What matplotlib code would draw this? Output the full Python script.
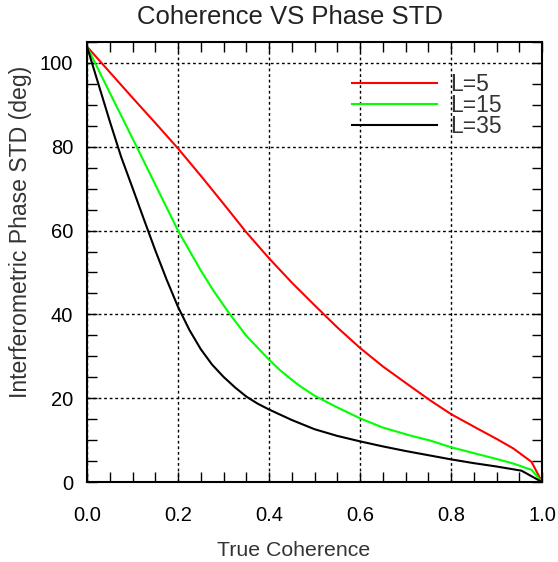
import matplotlib
matplotlib.use("Agg")
import matplotlib.pyplot as plt
from matplotlib.ticker import MultipleLocator

plt.rcParams['font.family'] = ['Liberation Sans', 'DejaVu Sans']

# Data
x_l5 = [0.0, 0.05, 0.1, 0.15, 0.2, 0.25, 0.3, 0.35, 0.4, 0.45, 0.5, 0.55, 0.6,
        0.65, 0.71, 0.754, 0.8, 0.864, 0.9, 0.937, 0.977, 1.0]
y_l5 = [103.9, 97.8, 91.7, 85.7, 79.6, 73.1, 66.4, 59.6, 53.4, 47.6, 42.2, 36.9, 32.0,
        27.6, 22.9, 19.5, 16.2, 12.4, 10.3, 8.0, 4.8, 0.0]

x_l15 = [0.0, 0.05, 0.1, 0.15, 0.2, 0.25, 0.2776, 0.3, 0.3143, 0.35, 0.4, 0.424, 0.45,
         0.468, 0.5, 0.55, 0.6, 0.65, 0.71, 0.754, 0.8, 0.864, 0.9, 0.937, 0.977, 1.0]
y_l15 = [103.9, 92.9, 82.0, 71.0, 60.0, 50.5, 45.7, 42.2, 40.0, 34.9, 29.2, 26.7, 24.4,
         22.9, 20.6, 17.8, 15.2, 13.0, 11.1, 9.9, 8.3, 6.5, 5.5, 4.4, 2.9, 0.0]

x_l35 = [0.0, 0.025, 0.05, 0.075, 0.1, 0.125, 0.15, 0.175, 0.2, 0.225, 0.25, 0.275,
         0.3, 0.325, 0.35, 0.375, 0.4, 0.45, 0.5, 0.55, 0.6, 0.65, 0.7, 0.75, 0.8,
         0.85, 0.9, 0.955, 1.0]
y_l35 = [103.9, 95.0, 86.1, 77.6, 70.2, 62.7, 55.3, 48.3, 41.8, 36.3, 31.7, 28.0,
         25.1, 22.6, 20.4, 18.7, 17.3, 14.8, 12.6, 11.0, 9.7, 8.5, 7.4, 6.4, 5.4,
         4.5, 3.7, 2.7, 0.0]

labels = ['L=5', 'L=15', 'L=35']
colors = ['#ff0000', '#00ff00', '#000000']

xticks = [0.0, 0.2, 0.4, 0.6, 0.8, 1.0]
yticks = [0, 20, 40, 60, 80, 100]

W, H = 558, 562
fig = plt.figure(figsize=(W / 100, H / 100), dpi=100)
ax = fig.add_axes([87 / W, 1 - 482 / H, 455 / W, 440 / H])

for xs, ys, lab, c in zip([x_l5, x_l15, x_l35], [y_l5, y_l15, y_l35], labels, colors):
    ax.plot(xs, ys, color=c, lw=1.5, label=lab)

ax.set_xlim(0, 1)
ax.set_ylim(0, 105)
ax.set_xticks(xticks)
ax.set_xticklabels(['%.1f' % v for v in xticks])
ax.set_yticks(yticks)
ax.xaxis.set_minor_locator(MultipleLocator(0.05))
ax.yaxis.set_minor_locator(MultipleLocator(5))
ax.tick_params(which='both', direction='in', top=True, right=True, length=7, width=1,
               labelsize=14.5, colors='black')
ax.tick_params(axis='x', which='major', pad=17)
ax.tick_params(axis='y', which='major', pad=10)
ax.grid(True, which='major', color='black', linestyle=(0, (2, 2)), linewidth=1)
for s in ax.spines.values():
    s.set_linewidth(1.5)

fig.text(290 / W, 1 - 17 / H, 'Coherence VS Phase STD', fontsize=18.5,
         ha='center', va='center', color='#222222')
fig.text(294 / W, 1 - 550 / H, 'True Coherence', fontsize=15.3,
         ha='center', va='center', color='#333333')
fig.text(21 / W, 1 - 232 / H, 'Interferometric Phase STD (deg)', fontsize=16.6,
         ha='center', va='center', rotation=90, color='#333333')

leg = ax.legend(loc='upper left', bbox_to_anchor=((352 - 87) / 455, (482 - 73) / 440),
                frameon=False, fontsize=16.5, handlelength=3.7, handletextpad=0.6,
                labelspacing=-0.08, borderaxespad=0, borderpad=0)
for t in leg.get_texts():
    t.set_color('#333333')

fig.savefig('out.png', dpi=100)
